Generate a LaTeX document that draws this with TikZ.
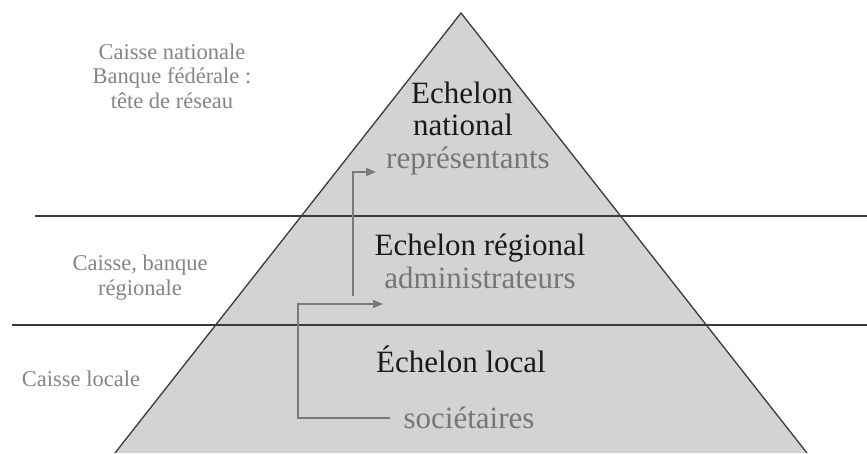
\documentclass[tikz,border=0pt]{standalone}
\usepackage{fontspec}
\setmainfont{LiberationSerif}[Extension=.ttf, UprightFont=*-Regular, BoldFont=*-Bold, ItalicFont=*-Italic]
\usetikzlibrary{arrows.meta}
\definecolor{pyrfill}{HTML}{D3D3D3}
\definecolor{edge}{HTML}{3A3A3A}
\definecolor{sidegray}{HTML}{858585}
\definecolor{subgray}{HTML}{767676}
\definecolor{titleblk}{HTML}{1A1A1A}
\definecolor{arrgray}{HTML}{7A7A7A}
\tikzset{
  title/.style={font=\fontsize{31}{32}\selectfont, text=titleblk, inner sep=0pt, anchor=base},
  sub/.style={font=\fontsize{31}{32}\selectfont, text=subgray, inner sep=0pt, anchor=base},
  side/.style={font=\fontsize{22.5}{24.5}\selectfont, text=sidegray, inner sep=0pt, anchor=base},
  sep/.style={draw=edge, line width=1.3pt},
  arr/.style={draw=arrgray, line width=1.5pt, -{Triangle[length=10pt,width=8pt]}}
}
\begin{document}
\begin{tikzpicture}[x=1pt,y=-1pt]
\useasboundingbox (0,0) rectangle (867,453);
\fill[white] (0,0) rectangle (867,453);
% pyramid
\coordinate (apex) at (461,13);
\coordinate (bl) at (115,453);
\coordinate (br) at (807,453);
\fill[pyrfill] (bl) -- (apex) -- (br) -- cycle;
\draw[edge, line width=1.3pt] (bl) -- (apex) -- (br);
% separators
\coordinate (l1a) at (35,216);  \coordinate (l1b) at (867,216);
\coordinate (l2a) at (12,325);  \coordinate (l2b) at (867,325);
\draw[sep] (l1a) -- (l1b);
\draw[sep] (l2a) -- (l2b);
% pyramid texts
\node[title] (nat1) at (462,103) {Echelon};
\node[title] (nat2) at (463,135) {national};
\node[sub]   (rep)  at (468,168) {représentants};
\node[title] (reg)  at (480,255) {Echelon régional};
\node[sub]   (adm)  at (480,288) {administrateurs};
\node[title] (loc)  at (461,372) {Échelon local};
\node[sub]   (soc)  at (469,428) {sociétaires};
% side labels
\node[side] (sn1) at (172,59)  {Caisse nationale};
\node[side] (sn2) at (172,83)  {Banque fédérale :};
\node[side] (sn3) at (172,108) {tête de réseau};
\node[side] (sr1) at (140,270) {Caisse, banque};
\node[side] (sr2) at (140,295) {régionale};
\node[side] (sl)  at (81,386)  {Caisse locale};
% arrows
\coordinate (a0) at (390,418);
\coordinate (a1) at (298,418);
\coordinate (a2) at (298,304);
\coordinate (a3) at (383,304);
\draw[arr] (a0) -- (a1) -- (a2) -- (a3);
\coordinate (b0) at (353,296);
\coordinate (b1) at (353,172);
\coordinate (b2) at (376,172);
\draw[arr] (b0) -- (b1) -- (b2);
\end{tikzpicture}
\end{document}
